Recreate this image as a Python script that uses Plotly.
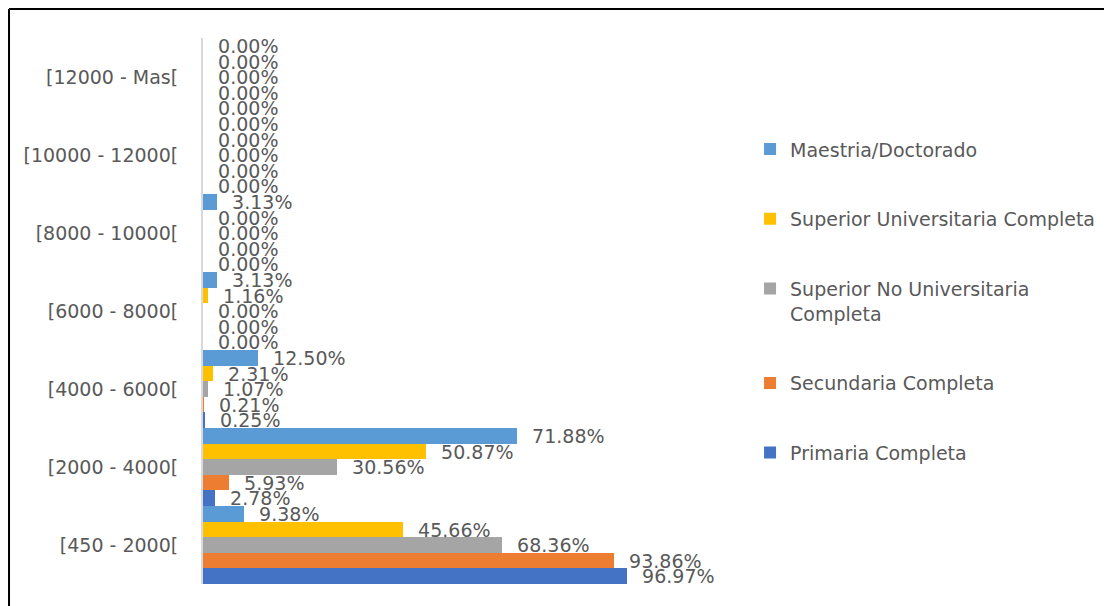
import plotly.graph_objects as go

categories = [
    "[450 - 2000[",
    "[2000 - 4000[",
    "[4000 - 6000[",
    "[6000 - 8000[",
    "[8000 - 10000[",
    "[10000 - 12000[",
    "[12000 - Mas[",
]

primaria = [96.97, 2.78, 0.25, 0.00, 0.00, 0.00, 0.00]
secundaria = [93.86, 5.93, 0.21, 0.00, 0.00, 0.00, 0.00]
sup_no_univ = [68.36, 30.56, 1.07, 0.00, 0.00, 0.00, 0.00]
sup_univ = [45.66, 50.87, 2.31, 1.16, 0.00, 0.00, 0.00]
maestria = [9.38, 71.88, 12.50, 3.13, 3.13, 0.00, 0.00]

series = [
    ("Primaria Completa", primaria, "#4472C4"),
    ("Secundaria Completa", secundaria, "#ED7D31"),
    ("Superior No Universitaria<br>Completa", sup_no_univ, "#A5A5A5"),
    ("Superior Universitaria Completa", sup_univ, "#FFC000"),
    ("Maestria/Doctorado", maestria, "#5B9BD5"),
]

FONT = "DejaVu Sans"
GREY_TEXT = "#595959"

fig = go.Figure()

for i, (name, vals, color) in enumerate(series):
    fig.add_trace(
        go.Bar(
            y=categories,
            x=vals,
            name=name,
            orientation="h",
            marker=dict(color=color, line=dict(width=0)),
            texttemplate="\u00a0\u00a0%{x:.2f}%",
            textposition="outside",
            constraintext="none",
            cliponaxis=False,
            textfont=dict(family=FONT, size=19, color=GREY_TEXT),
            legendgroup=f"g{i}",
            legendrank=(len(series) - i) * 100,  # Maestria on top of the legend
        )
    )

# page body adds 8px margin, so figure is a bit smaller than the window
fig.update_layout(
    width=1104,
    height=598,
    barmode="group",
    bargap=0,
    bargroupgap=0,
    paper_bgcolor="white",
    plot_bgcolor="white",
    margin=dict(l=195, r=384, t=30, b=22, autoexpand=False),
    font=dict(family=FONT, size=19, color=GREY_TEXT),
    legend=dict(
        x=1.042,
        xanchor="left",
        y=0.831,
        yanchor="top",
        traceorder="grouped",
        tracegroupgap=42,
        valign="top",
        font=dict(family=FONT, size=19, color=GREY_TEXT),
        bgcolor="rgba(0,0,0,0)",
    ),
    showlegend=True,
    shapes=[
        dict(type="line", xref="paper", yref="paper",
             x0=-0.3695, x1=1.74, y0=1.053, y1=1.053,
             line=dict(color="black", width=2)),
        dict(type="line", xref="paper", yref="paper",
             x0=-0.3695, x1=-0.3695, y0=1.053, y1=-0.05,
             line=dict(color="black", width=2)),
    ],
)

fig.update_xaxes(
    range=[0, 120],
    visible=False,
    showgrid=False,
    zeroline=False,
)

fig.update_yaxes(
    type="category",
    showgrid=False,
    zeroline=False,
    showline=True,
    linecolor="#D9D9D9",
    linewidth=2,
    ticks="",
    ticklabelstandoff=19,
    tickfont=dict(family=FONT, size=19, color=GREY_TEXT),
)

fig.write_html("out.html")
